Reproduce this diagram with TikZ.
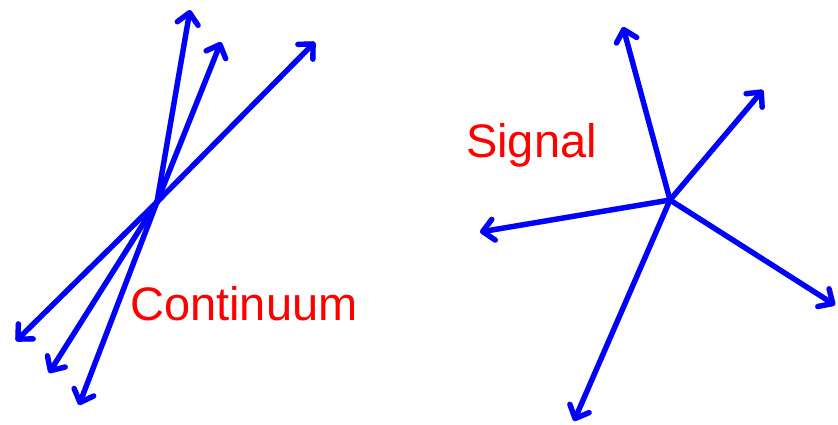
\documentclass[tikz,border=0pt]{standalone}
\usepackage{fontspec}
\setmainfont{Liberation Sans}
\usetikzlibrary{arrows.meta}
\definecolor{vblue}{RGB}{0,0,255}
\definecolor{vred}{RGB}{255,0,0}
\tikzset{
  vec/.style={draw=vblue, line width=5.4pt, line cap=round,
    -{Straight Barb[length=11pt, width=21pt, round]}},
  vecshadow/.style={vec, draw=black!18, shift={(1.5,1.5)}},
  lbl/.style={text=vred, font=\fontsize{47}{52}\selectfont, inner sep=0pt, anchor=base west}
}
\begin{document}
\begin{tikzpicture}[x=1pt,y=-1pt]
\useasboundingbox (0,0) rectangle (838,424);
% left group
\coordinate (c1) at (157,202);
\coordinate (a1) at (190,10);
\coordinate (a2) at (221,42);
\coordinate (a3) at (315,42);
\coordinate (b1) at (16,341);
\coordinate (b2) at (49,373);
\coordinate (b3) at (79,405);
% right group
\coordinate (c2) at (670,200);
\coordinate (r1) at (623,27);
\coordinate (r2) at (763,90);
\coordinate (r3) at (480,232);
\coordinate (r4) at (835,305);
\coordinate (r5) at (574,421);
\foreach \t in {a1,a2,a3,b1,b2,b3} \draw[vecshadow] (c1) -- (\t);
\foreach \t in {r1,r2,r3,r4,r5} \draw[vecshadow] (c2) -- (\t);
\foreach \t in {a1,a2,a3,b1,b2,b3} \draw[vec] (c1) -- (\t);
\foreach \t in {r1,r2,r3,r4,r5} \draw[vec] (c2) -- (\t);
\node[lbl] (cont) at (130,320) {Continuum};
\node[lbl] (sig) at (466,157) {Signal};
\end{tikzpicture}
\end{document}
